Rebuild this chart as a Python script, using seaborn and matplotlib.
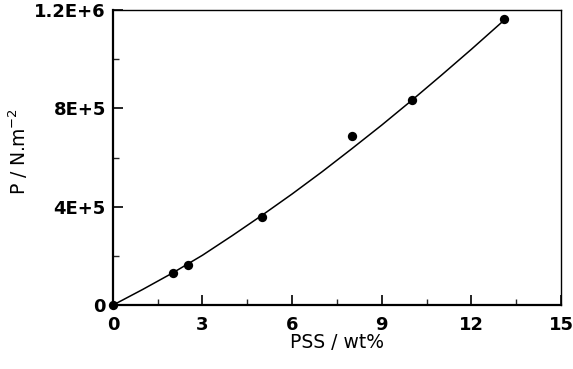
import numpy as np
import pandas as pd
import matplotlib
matplotlib.use("Agg")
import matplotlib.pyplot as plt
import seaborn as sns

# measured points
pss = [0, 2, 2.5, 5, 8, 10, 13.1]
pressure = [0, 1.29e5, 1.64e5, 3.59e5, 6.87e5, 8.34e5, 1.162e6]

# fitted curve
fit_x = [0, 1, 2, 3, 4, 5, 6, 7, 8, 9, 10, 11, 12, 13, 13.1]
fit_y = [0, 6.4e4, 1.31e5, 2.03e5, 2.83e5, 3.66e5, 4.52e5, 5.42e5, 6.36e5,
         7.32e5, 8.32e5, 9.35e5, 1.040e6, 1.148e6, 1.160e6]

xticks = [0, 3, 6, 9, 12, 15]
yticks = [0, 4e5, 8e5, 1.2e6]
ytick_labels = ["0", "4E+5", "8E+5", "1.2E+6"]

sns.set_style("ticks")
plt.rcParams['font.family'] = ['DejaVu Sans']

fig = plt.figure(figsize=(5.73, 3.69), dpi=100)
ax = fig.add_axes([0.197, 0.173, 0.782, 0.800])

sns.lineplot(x=fit_x, y=fit_y, ax=ax, color="black", linewidth=1.1)
sns.scatterplot(x=pss, y=pressure, ax=ax, color="black", s=45,
                edgecolor="black", linewidth=0, zorder=5, clip_on=False)

ax.set_xlim(0, 15)
ax.set_ylim(0, 1.2e6)
ax.set_xticks(xticks)
ax.set_xticks(np.arange(0, 15.1, 1.5), minor=True)
ax.set_yticks(yticks)
ax.set_yticklabels(ytick_labels)
ax.set_yticks(np.arange(0, 1.21e6, 2e5), minor=True)

ax.tick_params(axis="x", which="major", pad=8)
ax.tick_params(axis="y", which="major", pad=5)
ax.tick_params(axis="both", which="major", direction="in", length=7,
               width=1.2, labelsize=13, colors="black")
ax.tick_params(axis="both", which="minor", direction="in", length=4, width=1.0)
for lab in ax.get_xticklabels() + ax.get_yticklabels():
    lab.set_fontweight("bold")

for side in ["left", "bottom"]:
    ax.spines[side].set_linewidth(1.6)
for side in ["top", "right"]:
    ax.spines[side].set_visible(True)
    ax.spines[side].set_linewidth(1.0)
for sp in ax.spines.values():
    sp.set_color("black")

ax.set_xlabel("PSS / wt%", fontsize=13.5, color="black")
ax.set_ylabel("P / N.m$^{-2}$", fontsize=13.5, color="black")
ax.xaxis.set_label_coords(0.5, -0.095)
ax.yaxis.set_label_coords(-0.185, 0.52)

fig.savefig("out.png", dpi=100)
